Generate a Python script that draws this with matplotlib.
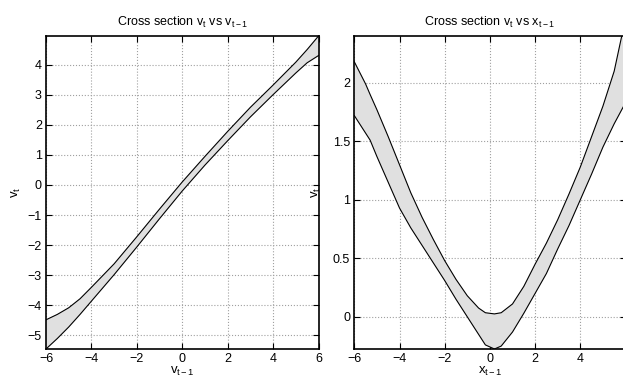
"""
Cross sections of the v_t posterior band, two panels
"""

import matplotlib
matplotlib.use("Agg")
import matplotlib.pyplot as plt

plt.rcParams['font.family'] = ['Liberation Sans', 'DejaVu Sans']
plt.rcParams['mathtext.fontset'] = 'custom'
plt.rcParams['mathtext.rm'] = 'Liberation Sans'
plt.rcParams['mathtext.it'] = 'Liberation Sans'
plt.rcParams['mathtext.bf'] = 'Liberation Sans:bold'

# left panel: v_t vs v_{t-1}
v_prev = [-6, -5.5, -5, -4.5, -4, -3, -2, -1, 0, 1, 2, 3, 4, 5, 5.5, 6]
v_upper = [-4.48, -4.3, -4.08, -3.78, -3.4, -2.62, -1.72, -0.8, 0.1, 0.95,
           1.78, 2.58, 3.32, 4.08, 4.5, 4.95]
v_lower = [-5.45, -5.1, -4.72, -4.3, -3.86, -2.98, -2.06, -1.12, -0.2, 0.66,
           1.47, 2.26, 3.0, 3.72, 4.06, 4.3]

# right panel: v_t vs x_{t-1}
x_prev = [-6, -5.5, -5.3, -5, -4.5, -4, -3.5, -3, -2.5, -2, -1.5, -1, -0.5,
          -0.2, 0.2, 0.5, 1, 1.5, 2, 2.5, 3, 3.5, 4, 4.5, 5, 5.5, 6]
x_upper = [2.18, 1.99, 1.9, 1.77, 1.54, 1.30, 1.06, 0.85, 0.66, 0.48, 0.32,
           0.18, 0.075, 0.035, 0.025, 0.035, 0.11, 0.26, 0.45, 0.63, 0.83,
           1.05, 1.28, 1.54, 1.8, 2.1, 2.55]
x_lower = [1.72, 1.57, 1.51, 1.37, 1.15, 0.93, 0.76, 0.61, 0.46, 0.31, 0.15,
           0.0, -0.15, -0.24, -0.275, -0.25, -0.13, 0.03, 0.2, 0.37, 0.58,
           0.78, 1.0, 1.22, 1.45, 1.65, 1.83]

panels = [
    dict(x=v_prev, lo=v_lower, hi=v_upper, ylim=(-5.45, 4.95),
         yticks=[-5, -4, -3, -2, -1, 0, 1, 2, 3, 4],
         yticklabels=['\u22125', '\u22124', '\u22123', '\u22122', '\u22121',
                      '0', '1', '2', '3', '4'],
         title='Cross section v$_{t}$ vs v$_{t-1}$', xlabel='v$_{t-1}$',
         rect=[46 / 623, 32 / 381, 272.5 / 623, 313 / 381], ylab_x=-0.085),
    dict(x=x_prev, lo=x_lower, hi=x_upper, ylim=(-0.275, 2.40),
         yticks=[0, 0.5, 1, 1.5, 2],
         yticklabels=['0', '0.5', '1', '1.5', '2'],
         title='Cross section v$_{t}$ vs x$_{t-1}$', xlabel='x$_{t-1}$',
         rect=[354.3 / 623, 32 / 381, 271.2 / 623, 313 / 381], ylab_x=-0.115),
]

xticks = [-6, -4, -2, 0, 2, 4, 6]
xticklabels = ['\u22126', '\u22124', '\u22122', '0', '2', '4', '6']

fig = plt.figure(figsize=(6.23, 3.81), dpi=100)

for p in panels:
    ax = fig.add_axes(p['rect'])
    ax.fill_between(p['x'], p['lo'], p['hi'], facecolor='#e0e0e0',
                    edgecolor='none', zorder=2)
    ax.plot(p['x'], p['hi'], color='black', linewidth=0.8, zorder=3)
    ax.plot(p['x'], p['lo'], color='black', linewidth=0.8, zorder=3)

    ax.set_xlim(-6, 6)
    ax.set_ylim(*p['ylim'])
    ax.set_xticks(xticks)
    ax.set_xticklabels(xticklabels)
    ax.set_yticks(p['yticks'])
    ax.set_yticklabels(p['yticklabels'])

    ax.grid(True, color='#a0a0a0', linestyle=':', linewidth=0.8, zorder=1)
    ax.set_axisbelow(True)
    ax.tick_params(direction='in', length=4, width=0.8, top=True, right=True,
                   labelsize=9, pad=3, colors='black')
    for s in ax.spines.values():
        s.set_linewidth(1.2)
        s.set_zorder(4)

    ax.set_title(p['title'], fontsize=9, pad=7)
    ax.set_xlabel(p['xlabel'], fontsize=9.5, labelpad=0)
    ax.set_ylabel('v$_{t}$', fontsize=9.5)
    ax.yaxis.set_label_coords(p['ylab_x'], 0.5)

plt.savefig('out.png', dpi=100, facecolor='white')
plt.close()
